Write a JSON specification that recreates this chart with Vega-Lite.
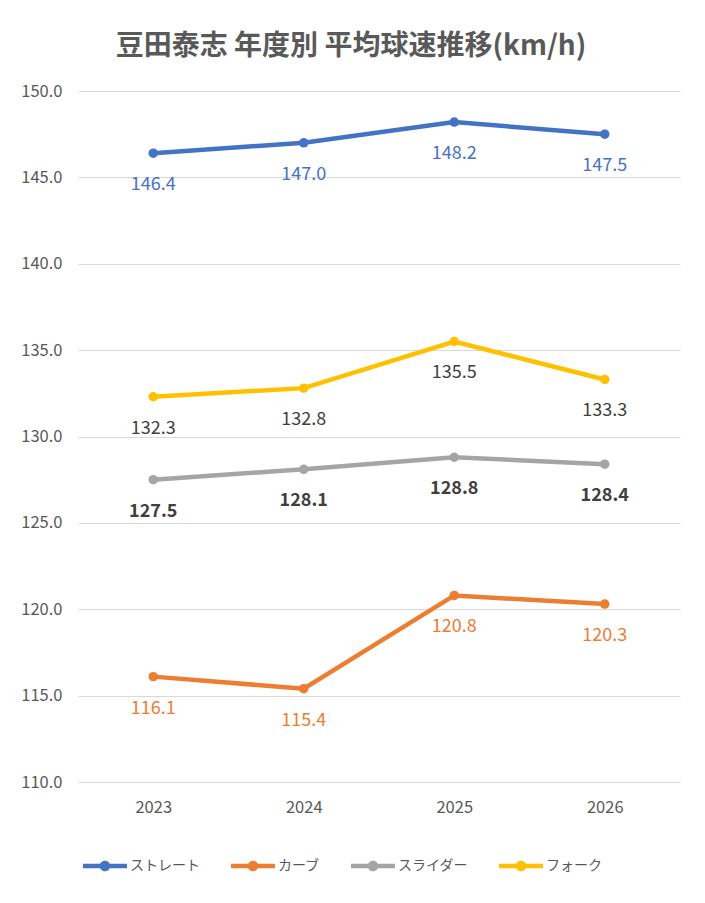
{
  "$schema": "https://vega.github.io/schema/vega-lite/v6.json",
  "autosize": {"type": "none"},
  "padding": {"left": 78, "top": 91, "right": 25, "bottom": 121},
  "width": 602,
  "height": 691,
  "background": "white",
  "title": {
    "text": "豆田泰志 年度別 平均球速推移(km/h)",
    "font": "Noto Sans CJK JP",
    "fontSize": 28,
    "fontWeight": "bold",
    "color": "#595959",
    "anchor": "middle",
    "dx": -28,
    "offset": 22
  },
  "data": {
    "values": [
      {"year": "2023", "type": "ストレート", "speed": 146.4},
      {"year": "2024", "type": "ストレート", "speed": 147.0},
      {"year": "2025", "type": "ストレート", "speed": 148.2},
      {"year": "2026", "type": "ストレート", "speed": 147.5},
      {"year": "2023", "type": "カーブ", "speed": 116.1},
      {"year": "2024", "type": "カーブ", "speed": 115.4},
      {"year": "2025", "type": "カーブ", "speed": 120.8},
      {"year": "2026", "type": "カーブ", "speed": 120.3},
      {"year": "2023", "type": "スライダー", "speed": 127.5},
      {"year": "2024", "type": "スライダー", "speed": 128.1},
      {"year": "2025", "type": "スライダー", "speed": 128.8},
      {"year": "2026", "type": "スライダー", "speed": 128.4},
      {"year": "2023", "type": "フォーク", "speed": 132.3},
      {"year": "2024", "type": "フォーク", "speed": 132.8},
      {"year": "2025", "type": "フォーク", "speed": 135.5},
      {"year": "2026", "type": "フォーク", "speed": 133.3}
    ]
  },
  "encoding": {
    "x": {
      "field": "year",
      "type": "ordinal",
      "scale": {"type": "point", "padding": 0.5},
      "axis": {
        "title": null,
        "labelAngle": 0,
        "ticks": false,
        "domain": false,
        "grid": false,
        "labelPadding": 17,
        "labelFontSize": 16.5,
        "labelColor": "#595959",
        "labelFont": "Noto Sans CJK JP"
      }
    },
    "y": {
      "field": "speed",
      "type": "quantitative",
      "scale": {"domain": [110, 150], "nice": false, "zero": false},
      "axis": {
        "title": null,
        "values": [110, 115, 120, 125, 130, 135, 140, 145, 150],
        "format": ".1f",
        "ticks": false,
        "domain": false,
        "gridColor": "#d9d9d9",
        "gridWidth": 1,
        "labelPadding": 16,
        "labelFontSize": 16.5,
        "labelColor": "#595959",
        "labelFont": "Noto Sans CJK JP"
      }
    }
  },
  "layer": [
    {
      "mark": {"type": "line", "strokeWidth": 4.5, "point": {"filled": true, "size": 90}},
      "encoding": {
        "color": {
          "field": "type",
          "type": "nominal",
          "scale": {
            "domain": ["ストレート", "カーブ", "スライダー", "フォーク"],
            "range": ["#4472c4", "#ed7d31", "#a5a5a5", "#ffc000"]
          },
          "legend": {
            "title": null,
            "orient": "none",
            "direction": "horizontal",
            "legendX": 5,
            "legendY": 753,
            "symbolType": "M-1,-0.1 L1,-0.1 L1,0.1 L-1,0.1 Z M-0.24,0 A0.24,0.24 0 1,1 0.24,0 A0.24,0.24 0 1,1 -0.24,0 Z",
            "symbolSize": 1936,
            "symbolStrokeWidth": 0,
            "labelFontSize": 14,
            "labelColor": "#595959",
            "labelFont": "Noto Sans CJK JP",
            "labelOffset": 3,
            "columnPadding": 31,
            "encode": {
              "symbols": {
                "update": {
                  "fill": {"scale": "color", "field": "value"},
                  "strokeWidth": {"value": 0}
                }
              }
            }
          }
        }
      }
    },
    {
      "transform": [{"filter": "datum.type === 'ストレート' || datum.type === 'カーブ'"}],
      "mark": {"type": "text", "dy": 32, "fontSize": 18, "font": "Noto Sans CJK JP", "baseline": "middle"},
      "encoding": {
        "text": {"field": "speed", "type": "quantitative", "format": ".1f"},
        "color": {"field": "type", "type": "nominal"}
      }
    },
    {
      "transform": [{"filter": "datum.type === 'フォーク'"}],
      "mark": {"type": "text", "dy": 32, "fontSize": 18, "font": "Noto Sans CJK JP", "baseline": "middle", "color": "#404040"},
      "encoding": {
        "text": {"field": "speed", "type": "quantitative", "format": ".1f"}
      }
    },
    {
      "transform": [{"filter": "datum.type === 'スライダー'"}],
      "mark": {"type": "text", "dy": 32, "fontSize": 18, "font": "Noto Sans CJK JP", "fontWeight": "bold", "baseline": "middle", "color": "#404040"},
      "encoding": {
        "text": {"field": "speed", "type": "quantitative", "format": ".1f"}
      }
    }
  ],
  "config": {
    "view": {"stroke": null}
  }
}
